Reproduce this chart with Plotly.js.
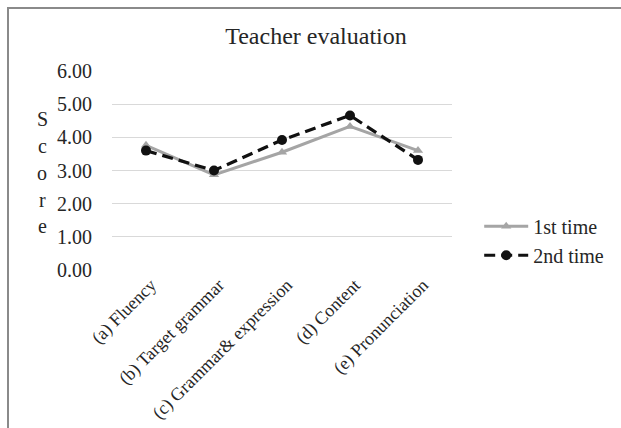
<!DOCTYPE html>
<html>
<head>
<meta charset="utf-8">
<script src="https://cdn.plot.ly/plotly-3.0.1.min.js"></script>
<style>
  html, body { margin: 0; padding: 0; background: #fff; }
  #wrap { position: relative; width: 621px; height: 428px; }
  #chart { width: 621px; height: 428px; }
  #frame { position: absolute; left: 7px; top: 7px; right: -10px; bottom: -10px;
           border-left: 2px solid #8a8a8a; border-top: 2px solid #8a8a8a; pointer-events: none; }
</style>
</head>
<body>
<div id="wrap">
  <div id="chart"></div>
  <div id="frame"></div>
</div>
<script>
const categories = ["(a) Fluency", "(b) Target grammar", "(c) Grammar& expression", "(d) Content", "(e) Pronunciation"];
const firstTime = [3.76, 2.87, 3.55, 4.33, 3.60];
const secondTime = [3.60, 3.00, 3.92, 4.66, 3.32];
const yTickVals = [0, 1, 2, 3, 4, 5, 6];
const yTickText = ["0.00", "1.00", "2.00", "3.00", "4.00", "5.00", "6.00"];
const chartTitle = "Teacher evaluation";
const yTitle = "Score";
const seriesNames = ["1st time", "2nd time"];

const serif = "'Liberation Serif', 'Times New Roman', serif";
const txt = "#262626";

const traces = [
  {
    x: categories, y: firstTime, name: seriesNames[0], type: "scatter", mode: "lines+markers",
    line: { color: "#a5a5a5", width: 3 },
    marker: { symbol: "triangle-up", size: 9, color: "#a5a5a5" }
  },
  {
    x: categories, y: secondTime, name: seriesNames[1], type: "scatter", mode: "lines+markers",
    line: { color: "#111111", width: 3.2, dash: "11px,6px" },
    marker: { symbol: "circle", size: 10, color: "#111111" }
  }
];

const letters = yTitle.split("");
const annotations = letters.map((ch, i) => ({
  text: ch, xref: "paper", yref: "paper",
  x: (40 - 112) / 350, y: (269.7 - (119 + i * 26.8)) / 198.7,
  xanchor: "center", yanchor: "middle", showarrow: false,
  font: { family: serif, size: 20, color: txt }
}));

const layout = {
  width: 621, height: 428,
  margin: { l: 112, r: 159, t: 71, b: 158.3, pad: 0 },
  paper_bgcolor: "#ffffff", plot_bgcolor: "#ffffff",
  title: {
    text: chartTitle, xref: "container", yref: "container",
    x: 316 / 621, y: 1 - 36 / 428, xanchor: "center", yanchor: "middle",
    font: { family: serif, size: 24, color: txt }
  },
  xaxis: {
    type: "category", range: [-0.5, 4.5], showgrid: false, zeroline: false, showline: false,
    tickangle: -45, ticks: "", ticklabelshift: 5,
    tickfont: { family: serif, size: 18, color: txt }
  },
  yaxis: {
    range: [0, 6], tickvals: yTickVals, ticktext: yTickText,
    showgrid: true, gridcolor: "#d9d9d9", gridwidth: 1.3, zeroline: false, showline: false,
    ticks: "", ticklabelstandoff: 19,
    tickfont: { family: serif, size: 20, color: txt }
  },
  showlegend: true,
  legend: {
    x: (490 - 112) / 350, y: (269.7 - 240.5) / 198.7, xanchor: "left", yanchor: "middle",
    font: { family: serif, size: 20, color: txt },
    bgcolor: "rgba(0,0,0,0)", itemwidth: 44
  },
  annotations: annotations
};

Plotly.newPlot("chart", traces, layout, { staticPlot: true, displayModeBar: false });
</script>
</body>
</html>
